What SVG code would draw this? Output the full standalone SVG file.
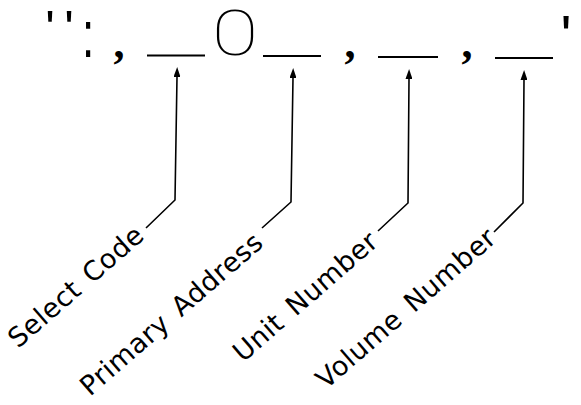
<svg xmlns="http://www.w3.org/2000/svg" width="581" height="405" viewBox="0 0 581 405">
<style>
.lbl{font-family:"DejaVu Sans",sans-serif;font-size:27px;letter-spacing:0.5px;fill:#000}
.conn{fill:none;stroke:#000;stroke-width:1.6;stroke-linejoin:miter}
.blank{stroke:#000;stroke-width:2}
.q{font-family:"Liberation Sans",Arial,sans-serif;fill:#000;text-anchor:middle}
.cm{font-family:"Liberation Serif","Times New Roman",serif;font-weight:bold;font-size:44px;fill:#000;text-anchor:middle}
.zero{font-family:Roboto,sans-serif;font-weight:100;font-size:63px;fill:#000;text-anchor:middle}
</style>
<defs>
<marker id="ah" viewBox="0 0 10 7" refX="0" refY="3.5" markerWidth="10" markerHeight="7" markerUnits="userSpaceOnUse" orient="auto">
<path d="M0,0 L10,3.5 L0,7 z" fill="#000"/>
</marker>
</defs>
<rect width="581" height="405" fill="#fff"/>
<g id="syntax">
<text class="q" font-size="50"><tspan x="50" y="46">'</tspan><tspan x="69" y="46">'</tspan></text>
<text class="q" font-size="44" transform="translate(88,57.4) scale(1,1.5)">:</text>
<text class="cm" x="119" y="58">,</text>
<line class="blank" x1="147" y1="55.5" x2="205" y2="55.5"/>
<text class="zero" transform="translate(235,55) scale(1.35,1)">0</text>
<line class="blank" x1="263" y1="56" x2="321" y2="56"/>
<text class="cm" x="350" y="58">,</text>
<line class="blank" x1="378" y1="57" x2="438" y2="57"/>
<text class="cm" x="467" y="58">,</text>
<line class="blank" x1="495" y1="58" x2="553" y2="58"/>
<text class="q" font-size="58" x="566" y="56">'</text>
</g>
<g id="connectors">
<polyline class="conn" points="146,228 175,200 177,77" marker-end="url(#ah)"/>
<polyline class="conn" points="262,228 291,202 293,78" marker-end="url(#ah)"/>
<polyline class="conn" points="378,231 408,203 409,79" marker-end="url(#ah)"/>
<polyline class="conn" points="494,232 523,203 524,80" marker-end="url(#ah)"/>
</g>
<g id="select-code"><text class="lbl" x="18" y="349" transform="rotate(-41 18 349)">Select<tspan dx="3"> Code</tspan></text></g>
<g id="primary-address"><text class="lbl" x="90" y="397" transform="rotate(-41 90 397)">Primary<tspan dx="4"> Address</tspan></text></g>
<g id="unit-number"><text class="lbl" x="243" y="363" transform="rotate(-41 243 363)">Unit<tspan dx="4"> Number</tspan></text></g>
<g id="volume-number"><text class="lbl" x="326" y="390" transform="rotate(-41 326 390)">Volume<tspan dx="4"> Number</tspan></text></g>
</svg>
